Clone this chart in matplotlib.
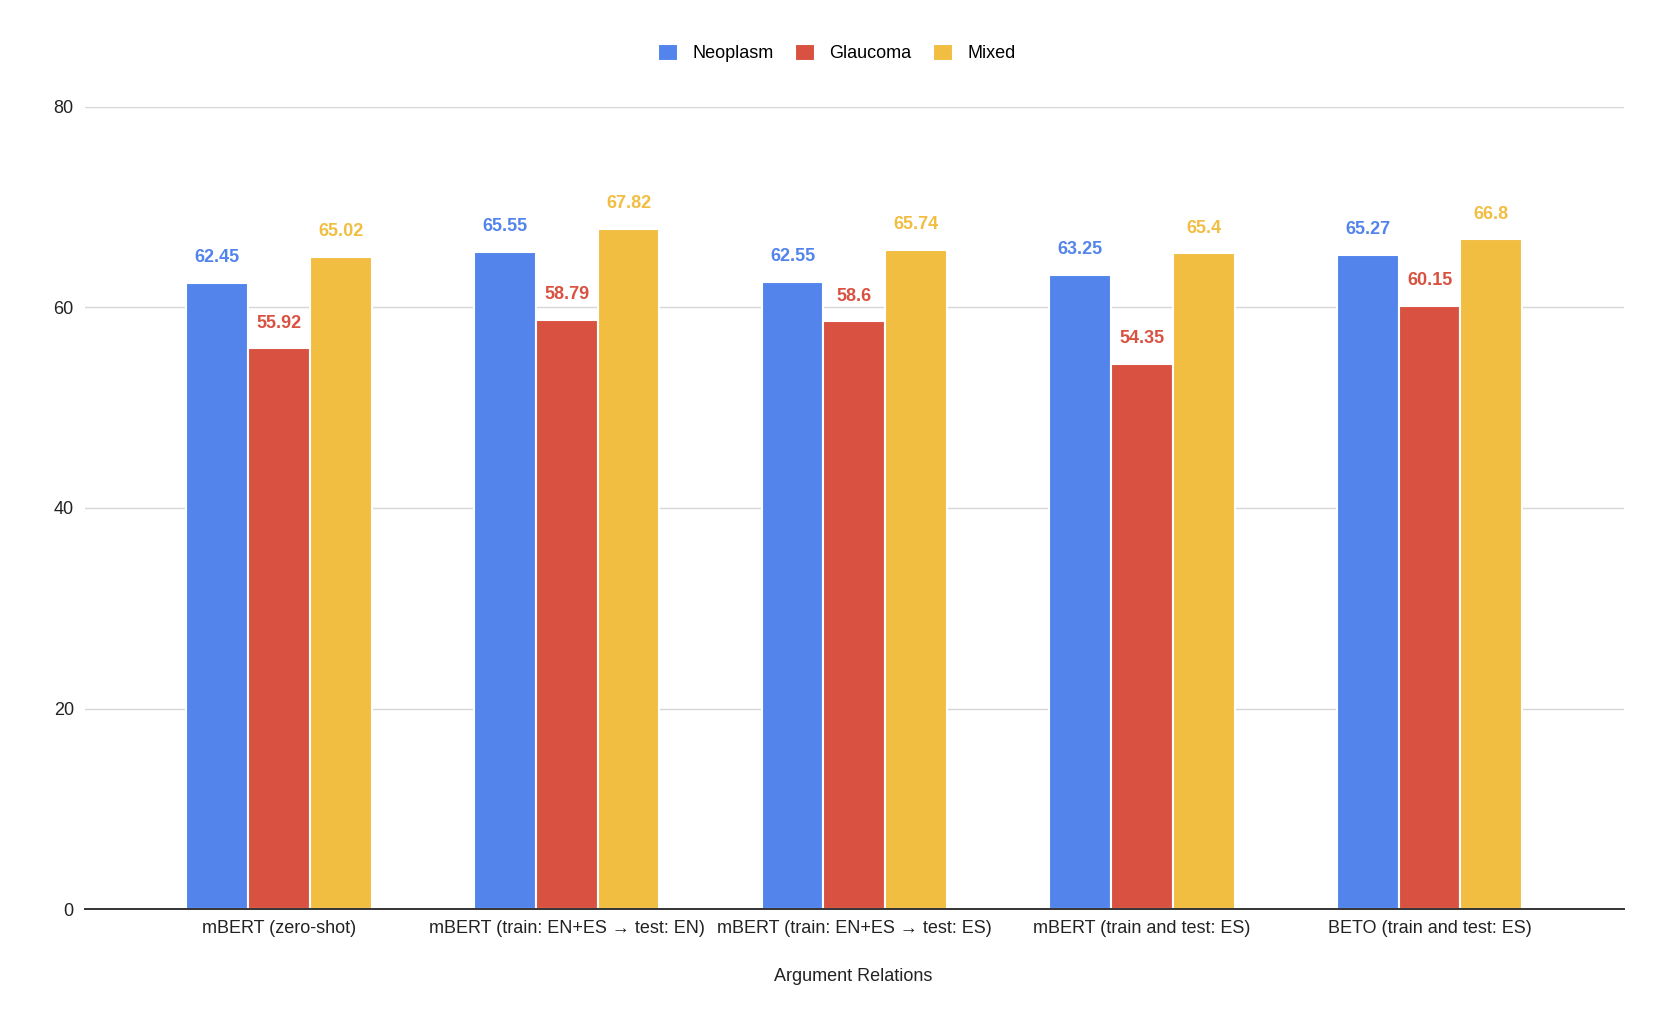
import matplotlib.pyplot as plt
import numpy as np

categories = ['mBERT (zero-shot)',
              'mBERT (train: EN+ES \u2192 test: EN)',
              'mBERT (train: EN+ES \u2192 test: ES)',
              'mBERT (train and test: ES)',
              'BETO (train and test: ES)']
series_names = ['Neoplasm', 'Glaucoma', 'Mixed']
neoplasm = [62.45, 65.55, 62.55, 63.25, 65.27]
glaucoma = [55.92, 58.79, 58.6, 54.35, 60.15]
mixed = [65.02, 67.82, 65.74, 65.4, 66.8]
yticks = [0, 20, 40, 60, 80]

colors = ['#5284EC', '#D95140', '#F1BE42']

plt.rcParams['font.family'] = ['Liberation Sans', 'DejaVu Sans']

fig = plt.figure(figsize=(16.64, 10.18), dpi=100)
ax = fig.add_axes([0.051, 0.107, 0.9248, 0.788])

x = np.arange(len(categories))
width = 0.215
for i, (name, vals) in enumerate(zip(series_names, [neoplasm, glaucoma, mixed])):
    pos = x + (i - 1) * width
    ax.bar(pos, vals, width, color=colors[i], edgecolor='white', linewidth=1.5,
           label=name, zorder=3)
    for px, v in zip(pos, vals):
        ax.annotate(f'{v:g}', (px, v), xytext=(0, 12), textcoords='offset points',
                    ha='center', va='bottom', fontsize=13, fontweight='bold',
                    color=colors[i])

ax.set_xlim(-0.675, len(categories) - 1 + 0.675)
ax.set_ylim(0, 80)
ax.set_yticks(yticks)
ax.set_xticks(x)
ax.set_xticklabels(categories, fontsize=13, color='#222222')
ax.tick_params(axis='y', labelsize=13, colors='#222222', length=0, pad=8)
ax.tick_params(axis='x', length=0, pad=8)
ax.grid(axis='y', color='#d6d6d6', linewidth=1, zorder=0)
for s in ['top', 'right', 'left']:
    ax.spines[s].set_visible(False)
ax.spines['bottom'].set_color('#333333')
ax.spines['bottom'].set_linewidth(1.4)
ax.spines['bottom'].set_zorder(4)

fig.text(0.513, 0.041, 'Argument Relations', ha='center', va='center',
         fontsize=13, color='#222222')

fig.legend(loc='center', bbox_to_anchor=(0.503, 0.948), ncol=3, frameon=False,
           fontsize=13, handlelength=1.1, handleheight=1.1, columnspacing=1.2,
           handletextpad=0.8)

fig.savefig('out.png', dpi=100, facecolor='white')
